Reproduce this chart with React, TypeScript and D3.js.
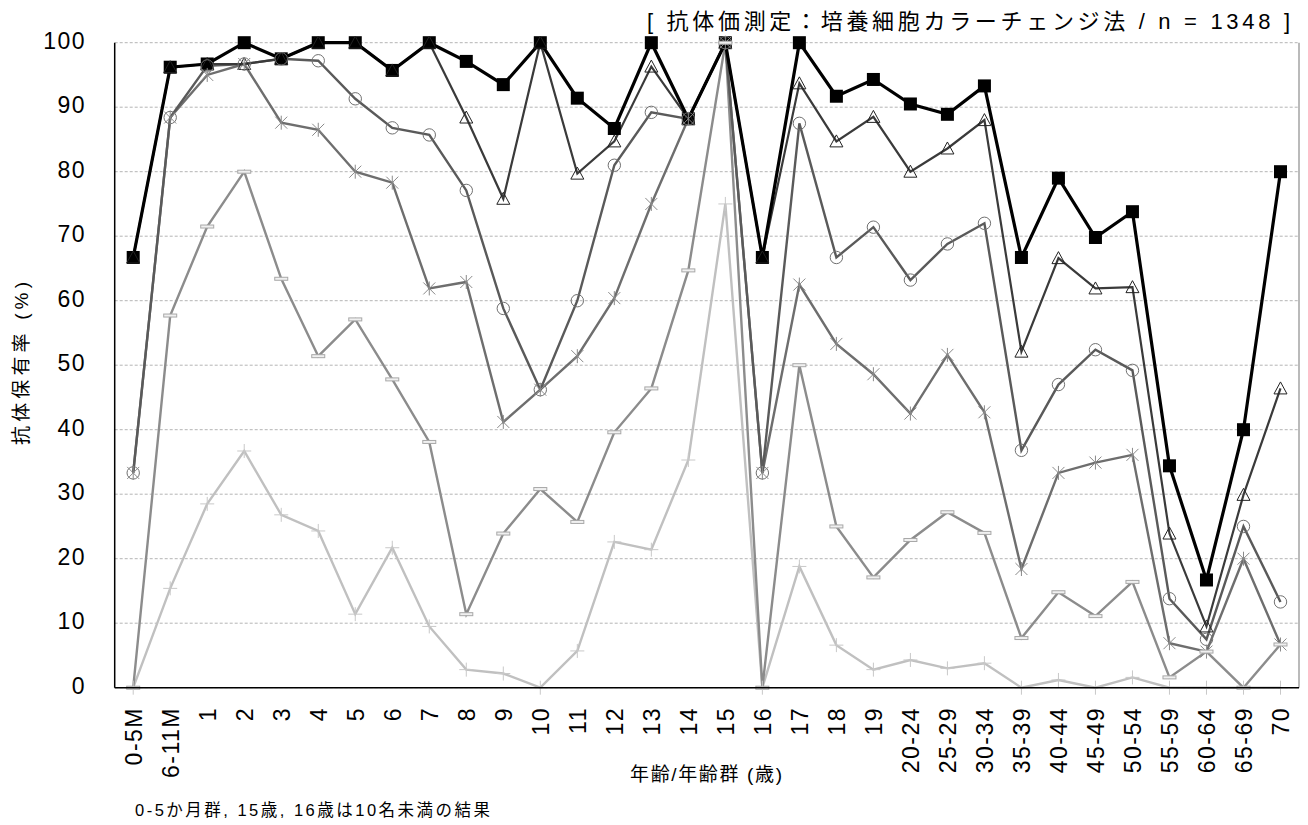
import React from "react";
import * as d3 from "d3";

const categories = [
  "0-5M", "6-11M", "1", "2", "3", "4", "5", "6", "7", "8", "9", "10", "11", "12",
  "13", "14", "15", "16", "17", "18", "19", "20-24", "25-29", "30-34", "35-39",
  "40-44", "45-49", "50-54", "55-59", "60-64", "65-69", "70",
];

const seriesSquare = [66.7, 96.2, 96.7, 100, 97.5, 100, 100, 95.7, 100, 97.1, 93.5, 100, 91.4, 86.7, 100, 88.2, 100, 66.7, 100, 91.7, 94.3, 90.5, 88.9, 93.3, 66.7, 79.0, 69.8, 73.8, 34.4, 16.7, 40.0, 80.0];
const seriesTriangle = [66.7, 96.2, 96.7, 96.7, 97.5, 100, 100, 95.7, 100, 88.4, 75.8, 100, 79.7, 84.7, 96.3, 88.2, 100, 66.7, 93.7, 84.7, 88.5, 80.0, 83.6, 88.0, 52.1, 66.6, 61.9, 62.1, 23.9, 9.5, 29.9, 46.4];
const seriesCircle = [33.3, 88.4, 96.4, 96.7, 97.5, 97.2, 91.3, 86.8, 85.7, 77.1, 58.8, 46.2, 60.0, 81.0, 89.2, 88.2, 100, 33.3, 87.5, 66.7, 71.4, 63.2, 68.8, 72.0, 36.8, 47.0, 52.4, 49.2, 13.8, 7.5, 25.0, 13.3];
const seriesStar = [33.3, 88.4, 95.0, 96.7, 87.6, 86.5, 80.0, 78.3, 61.9, 62.9, 41.2, 46.2, 51.4, 60.4, 75.0, 88.2, 100, 33.3, 62.5, 53.3, 48.6, 42.5, 51.6, 42.7, 18.4, 33.3, 34.9, 36.1, 6.9, 5.6, 20.0, 6.7];
const seriesDash = [0, 57.7, 71.5, 80.0, 63.4, 51.4, 57.1, 47.8, 38.1, 11.4, 23.9, 30.8, 25.7, 39.6, 46.4, 64.7, 100, 0, 50.0, 25.0, 17.1, 22.9, 27.2, 24.0, 7.7, 14.8, 11.1, 16.4, 1.6, 5.6, 0, 6.7];
const seriesPlus = [0, 15.4, 28.5, 36.7, 26.8, 24.3, 11.4, 21.7, 9.5, 2.8, 2.2, 0, 5.7, 22.6, 21.4, 35.3, 75.0, 0, 18.8, 6.6, 2.8, 4.3, 3.0, 3.8, 0, 1.2, 0, 1.6, 0, 0, 0, 0];

const yTicks = [0, 10, 20, 30, 40, 50, 60, 70, 80, 90, 100];

const titleText = "[ 抗体価測定：培養細胞カラーチェンジ法  / n = 1348 ]";
const yTitle = "抗体保有率 (%)";
const xTitle = "年齢/年齢群 (歳)";
const noteText = "0-5か月群, 15歳, 16歳は10名未満の結果";

type Series = { values: number[]; color: string; width: number; marker: string };

const series: Series[] = [
  { values: seriesSquare, color: "#000000", width: 3.2, marker: "square" },
  { values: seriesTriangle, color: "#3a3a3a", width: 2.2, marker: "triangle" },
  { values: seriesCircle, color: "#5a5a5a", width: 2.4, marker: "circle" },
  { values: seriesStar, color: "#6e6e6e", width: 2.4, marker: "star" },
  { values: seriesDash, color: "#8c8c8c", width: 2.4, marker: "dash" },
  { values: seriesPlus, color: "#c0c0c0", width: 2.4, marker: "plus" },
];

const FONT = "'Liberation Sans', Arial, 'Noto Sans CJK JP', sans-serif";

const W = 1308;
const H = 825;
const left = 114.7;
const right = 1299;
const top = 42.7;
const bottom = 687.7;

function Marker({ type, cx, cy }: { type: string; cx: number; cy: number }) {
  switch (type) {
    case "square":
      return <rect x={cx - 6.5} y={cy - 6.5} width={13} height={13} fill="#000" />;
    case "triangle":
      return (
        <path
          d={`M${cx},${cy - 6.5} L${cx + 6.5},${cy + 5.5} L${cx - 6.5},${cy + 5.5} Z`}
          fill="none"
          stroke="#222"
          strokeWidth={1}
        />
      );
    case "circle":
      return <circle cx={cx} cy={cy} r={6.2} fill="none" stroke="#707070" strokeWidth={1} />;
    case "star":
      return (
        <path
          d={`M${cx - 6},${cy - 6} L${cx + 6},${cy + 6} M${cx + 6},${cy - 6} L${cx - 6},${cy + 6} M${cx},${cy - 7} L${cx},${cy + 7}`}
          stroke="#8a8a8a"
          strokeWidth={1}
          fill="none"
        />
      );
    case "dash":
      return (
        <rect x={cx - 6.5} y={cy - 1.5} width={13} height={3} fill="#f0f0f0" stroke="#a8a8a8" strokeWidth={1} />
      );
    case "plus":
      return (
        <path
          d={`M${cx - 7},${cy} L${cx + 7},${cy} M${cx},${cy - 7} L${cx},${cy + 7}`}
          stroke="#c8c8c8"
          strokeWidth={1}
          fill="none"
        />
      );
    default:
      return null;
  }
}

export default function App() {
  const x = d3.scaleBand<string>().domain(categories).range([left, right]).padding(0);
  const bw = x.bandwidth();
  const cx = (c: string) => (x(c) as number) + bw / 2;
  const y = d3.scaleLinear().domain([0, 100]).range([bottom, top]);

  const line = d3
    .line<number>()
    .x((_, i) => cx(categories[i]))
    .y((d) => y(d));

  const lineOrder = [...series].reverse();

  return (
    <svg
      width={W}
      height={H}
      style={{ position: "absolute", left: 0, top: 0, background: "#fff" }}
      fontFamily={FONT}
    >
      <rect x={0} y={0} width={W} height={H} fill="#fff" />
      {yTicks.map((t) => (
        <line
          key={t}
          x1={left}
          x2={right}
          y1={y(t)}
          y2={y(t)}
          stroke="#b4b4b4"
          strokeWidth={1}
          strokeDasharray="3,2"
        />
      ))}
      <line x1={right} x2={right} y1={top} y2={bottom} stroke="#8c8c8c" strokeWidth={1.2} />
      {lineOrder.map((s, i) => (
        <path
          key={"l" + i}
          d={line(s.values) || ""}
          fill="none"
          stroke={s.color}
          strokeWidth={s.width}
          strokeLinejoin="miter"
        />
      ))}
      {series.map((s, si) => (
        <g key={"m" + si}>
          {s.values.map((v, i) => (
            <Marker key={i} type={s.marker} cx={cx(categories[i])} cy={y(v)} />
          ))}
        </g>
      ))}
      <line x1={left} x2={left} y1={top} y2={bottom} stroke="#000" strokeWidth={1.5} />
      <line x1={left} x2={right} y1={bottom} y2={bottom} stroke="#000" strokeWidth={1.5} />
      {yTicks.map((t) => (
        <text
          key={"yt" + t}
          x={86}
          y={y(t) + 6}
          textAnchor="end"
          fontSize={23}
          letterSpacing={1.5}
          fill="#000"
        >
          {t}
        </text>
      ))}
      {categories.map((c) => (
        <text
          key={"xt" + c}
          transform={`translate(${cx(c) + 8.5},707) rotate(-90)`}
          textAnchor="end"
          fontSize={23}
          letterSpacing={1.5}
          fill="#000"
        >
          {c}
        </text>
      ))}
      <text x={647} y={28.5} fontSize={22} textLength={643} lengthAdjust="spacing" fill="#000">
        {titleText}
      </text>
      <text
        transform={`translate(28,445) rotate(-90)`}
        fontSize={19}
        textLength={163}
        lengthAdjust="spacing"
        fill="#000"
      >
        {yTitle}
      </text>
      <text x={630} y={781} fontSize={19} textLength={152} lengthAdjust="spacing" fill="#000">
        {xTitle}
      </text>
      <text x={135} y={816} fontSize={16.5} textLength={355} lengthAdjust="spacing" fill="#000">
        {noteText}
      </text>
    </svg>
  );
}
